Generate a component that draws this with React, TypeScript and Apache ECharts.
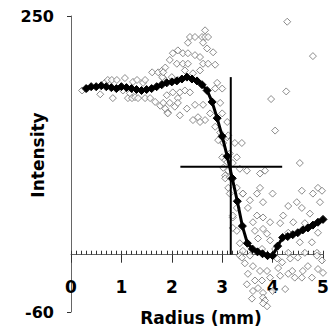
import React, { useEffect, useRef } from "react";
import * as echarts from "echarts";

const meanX = [0.3,0.4,0.5,0.6,0.7,0.8,0.9,1.0,1.1,1.2,1.3,1.4,1.5,1.6,1.7,1.8,1.9,2.0,2.1,2.2,2.3,2.4,2.5,2.6,2.7,2.8,2.9,3.0,3.1,3.2,3.3,3.4,3.5,3.6,3.7,3.8,3.9,4.0,4.1,4.2,4.3,4.4,4.5,4.6,4.7,4.8,4.9,5.0];
const meanY = [174,176,176,177,176,175,174,176,175,174,173,172,173,174,176,178,180,181,182,184,186,184,182,178,172,160,143,124,103,80,56,30,12,6,3,1,-1,-1,9,18,19,21,23,26,28,31,34,37];

const scatterX = [
  0.22,0.32,0.58,0.67,0.73,0.81,0.83,0.91,1.03,1.07,1.13,1.17,1.21,1.23,1.27,1.31,1.33,1.43,1.47,1.47,1.57,1.61,1.67,1.73,1.77,1.81,1.83,1.87,1.92,
  2.66,2.36,2.46,2.60,2.66,2.72,2.32,2.62,2.70,2.12,2.02,2.22,2.32,2.46,2.56,2.82,1.96,2.10,2.22,2.32,2.62,2.72,1.87,2.26,2.42,2.56,2.86,2.00,2.12,1.81,1.83,2.90,3.00,2.86,2.02,2.16,2.26,2.36,1.90,2.12,
  1.83,1.96,2.06,2.12,1.92,2.16,2.30,2.46,2.62,2.52,2.66,2.42,2.56,2.76,2.96,3.00,2.86,2.96,3.10,3.10,2.92,3.02,3.12,3.00,3.06,3.10,3.15,3.02,3.12,3.06,
  3.06,3.15,3.12,3.15,3.21,3.21,
  4.29,4.80,4.27,3.97,4.05,4.54,
  3.25,3.39,3.29,3.21,3.35,3.49,3.75,3.85,3.75,3.29,4.58,4.90,4.98,3.41,
  3.41,3.69,4.00,4.80,3.55,3.81,4.48,4.94,3.29,3.51,4.31,4.58,3.21,3.69,3.81,4.21,4.74,5.04,3.61,3.95,4.15,4.41,4.64,3.29,3.65,3.89,3.81,4.31,4.90,5.06,3.35,3.71,3.95,4.54,4.78,3.41,3.79,4.05,4.31,4.64,4.88,
  3.35,3.55,3.45,3.61,3.51,3.49,3.65,3.61,3.59,3.71,3.79,3.81,3.81,3.85,3.89,3.81,4.00,4.09,4.11,4.15,4.25,4.19,4.39,4.44,4.31,4.50,4.58,4.60,4.70,4.78,4.88,4.90,5.00,4.98,3.95,3.89,3.75,4.35,3.39
];
const scatterY = [
  172,174,168,180,183,183,164,183,172,185,164,169,164,181,165,183,164,180,183,164,164,191,160,191,156,193,185,153,149,
  235,228,228,228,228,228,222,222,216,214,211,211,211,209,207,212,204,200,200,200,200,200,196,193,190,193,199,186,183,186,191,180,174,174,170,170,172,170,167,164,
  159,159,155,159,148,146,153,157,157,144,141,141,139,148,159,148,134,128,139,123,120,117,125,102,99,97,106,91,88,83,
  80,81,70,64,39,28,
  244,208,171,163,130,96,
  117,117,102,96,90,88,85,88,70,70,67,70,67,64,
  64,64,64,64,57,55,55,55,49,49,51,49,41,41,39,41,43,41,34,34,33,34,33,25,25,22,27,23,23,27,12,17,15,13,13,4,6,6,2,2,2,
  -1,-1,-9,-12,-20,-31,-27,-38,-46,-35,-27,-40,-45,-48,-54,-51,-38,-4,-14,-22,-36,-8,-17,-24,-20,-3,-24,-17,-12,-24,-1,-15,-19,-6,-24,-17,-17,-4,-3
];

const crossV = { x: 3.17, y0: 0, y1: 186 };
const crossH = { y: 92, x0: 2.17, x1: 4.19 };

const FONT = "'DejaVu Sans', Verdana, sans-serif";

export default function App() {
  const ref = useRef<HTMLDivElement>(null);
  useEffect(() => {
    document.body.style.margin = "0";
    const chart = echarts.init(ref.current!, null, { renderer: "svg" });
    const scatterData = scatterX.map((x, i) => [x, scatterY[i]]);
    const meanData = meanX.map((x, i) => [x, meanY[i]]);
    const xBase = { type: "value", min: 0, max: 5, interval: 1, position: "bottom", splitLine: { show: false } };
    const yBase = { type: "value", min: -60, max: 250, interval: 310, splitLine: { show: false } };
    chart.setOption({
      animation: false,
      grid: { left: 71, right: 7, top: 16, bottom: 15, outerBoundsMode: "none", containLabel: false },
      xAxis: [
        {
          ...xBase,
          axisLine: { show: false, onZero: false },
          axisTick: { show: false },
          axisLabel: { fontFamily: FONT, fontWeight: "bold", fontSize: 17, color: "#000", margin: -34 },
        },
        {
          ...xBase,
          axisLine: { show: true, onZero: true, onZeroAxisIndex: 1, lineStyle: { color: "#666", width: 1 } },
          axisTick: { show: true, inside: true, length: 4, lineStyle: { color: "#333" } },
          minorTick: { show: true, splitNumber: 10, length: 4, lineStyle: { color: "#333" } },
          axisLabel: { show: false },
        },
        {
          ...xBase,
          axisLine: { show: false, onZero: true, onZeroAxisIndex: 2 },
          axisTick: { show: true, inside: false, length: 8, lineStyle: { color: "#333" } },
          axisLabel: { show: false },
        },
      ],
      yAxis: [
        {
          ...yBase,
          axisLine: { show: true, onZero: false, lineStyle: { color: "#666", width: 1 } },
          axisTick: { show: true, length: 4, lineStyle: { color: "#333" } },
          axisLabel: { fontFamily: FONT, fontWeight: "bold", fontSize: 16, color: "#000", margin: 17 },
        },
        { ...yBase, show: false },
        { ...yBase, show: false },
      ],
      graphic: [
        {
          type: "text",
          x: 38,
          y: 155,
          rotation: Math.PI / 2,
          style: {
            text: "Intensity",
            fontFamily: FONT,
            fontWeight: "bold",
            fontSize: 17,
            fill: "#000",
            align: "center",
            verticalAlign: "middle",
          },
        },
        {
          type: "text",
          x: 201,
          y: 318,
          style: {
            text: "Radius (mm)",
            fontFamily: FONT,
            fontWeight: "bold",
            fontSize: 17,
            fill: "#000",
            align: "center",
            verticalAlign: "middle",
          },
        },
      ],
      series: [
        {
          type: "scatter",
          data: scatterData,
          symbol: "diamond",
          symbolSize: 7,
          itemStyle: { color: "#fff", borderColor: "#6e6e6e", borderWidth: 1 },
          z: 2,
        },
        {
          type: "line",
          data: meanData,
          symbol: "diamond",
          symbolSize: 8,
          showAllSymbol: true,
          lineStyle: { color: "#000", width: 3 },
          itemStyle: { color: "#000", borderColor: "#000" },
          z: 3,
        },
        {
          type: "line",
          data: [[crossV.x, crossV.y0], [crossV.x, crossV.y1]],
          symbol: "none",
          lineStyle: { color: "#000", width: 2 },
          z: 4,
        },
        {
          type: "line",
          data: [[crossH.x0, crossH.y], [crossH.x1, crossH.y]],
          symbol: "none",
          lineStyle: { color: "#000", width: 2 },
          z: 4,
        },
      ],
    });
    return () => chart.dispose();
  }, []);
  return <div ref={ref} style={{ width: 330, height: 327 }} />;
}
